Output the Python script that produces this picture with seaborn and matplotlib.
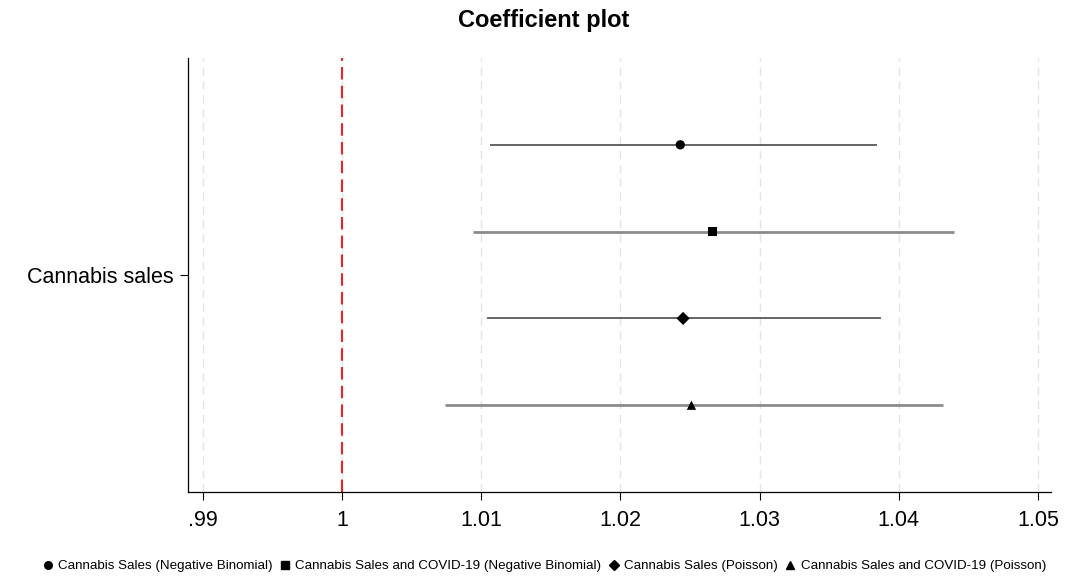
import matplotlib
matplotlib.use("Agg")
import matplotlib.pyplot as plt
import seaborn as sns
import pandas as pd
from matplotlib.lines import Line2D

models = ["Cannabis Sales (Negative Binomial)",
          "Cannabis Sales and COVID-19 (Negative Binomial)",
          "Cannabis Sales (Poisson)",
          "Cannabis Sales and COVID-19 (Poisson)"]
estimates = [1.0243, 1.0266, 1.0245, 1.0251]
ci_low = [1.0106, 1.0094, 1.0104, 1.0074]
ci_high = [1.0384, 1.0440, 1.0387, 1.0432]
offsets = [-1.5, -0.5, 0.5, 1.5]
variable = "Cannabis sales"
xticks = [0.99, 1.00, 1.01, 1.02, 1.03, 1.04, 1.05]
xticklabels = [".99", "1", "1.01", "1.02", "1.03", "1.04", "1.05"]

sns.set_theme(style="white")
plt.rcParams['font.family'] = ['Liberation Sans', 'DejaVu Sans']
plt.rcParams['text.color'] = 'black'
plt.rcParams['xtick.color'] = 'black'
plt.rcParams['ytick.color'] = 'black'

df = pd.DataFrame({"model": models, "est": estimates, "lo": ci_low,
                   "hi": ci_high, "y": offsets})

fig = plt.figure(figsize=(10.87, 5.79), dpi=100)
ax = fig.add_axes([188/1087, 1-492/579, (1051-188)/1087, (492-58)/579])

line_colors = ["#3a3a3a", "#8c8c8c", "#3a3a3a", "#8c8c8c"]
line_widths = [1.1, 2.0, 1.1, 2.0]
for i, r in df.iterrows():
    ax.hlines(r["y"], r["lo"], r["hi"], color=line_colors[i], lw=line_widths[i], zorder=2)

markers = {models[0]: "o", models[1]: "s", models[2]: "D", models[3]: "^"}
sns.scatterplot(data=df, x="est", y="y", style="model", markers=markers,
                color="black", s=45, edgecolor="none", ax=ax, zorder=3, legend=False)

for xv in xticks:
    ax.axvline(xv, color="#e4e4e4", lw=1, ls=(0, (6, 4)), zorder=0)
ax.axvline(1.0, color="#e8252a", lw=1.5, ls=(0, (6, 3)), zorder=1)

ax.set_xlim(0.98892, 1.05094)
ax.set_ylim(2.5, -2.5)
ax.set_xticks(xticks)
ax.set_xticklabels(xticklabels, fontsize=15.5)
ax.set_yticks([0])
ax.set_yticklabels([variable], fontsize=15.5)
ax.set_xlabel("")
ax.set_ylabel("")
ax.tick_params(axis="x", direction="out", length=6, width=0.8, color="black",
               bottom=True, pad=7)
ax.tick_params(axis="y", direction="out", length=6, width=0.8, color="black",
               left=True, pad=4)
for s in ["top", "right"]:
    ax.spines[s].set_visible(False)
for s in ["left", "bottom"]:
    ax.spines[s].set_color("black")
    ax.spines[s].set_linewidth(0.9)

fig.suptitle("Coefficient plot", fontsize=17, fontweight="bold", y=1-20/579, va="center")

handles = [Line2D([], [], marker=markers[m], color="black", ls="none", markersize=5.5) for m in models]
fig.legend(handles, models, loc="center", bbox_to_anchor=(0.5, 1-566/579), ncol=4,
           frameon=False, fontsize=9.6, handletextpad=0.3, columnspacing=0.4, handlelength=1.0)

fig.savefig("out.png", dpi=100, facecolor="white")
